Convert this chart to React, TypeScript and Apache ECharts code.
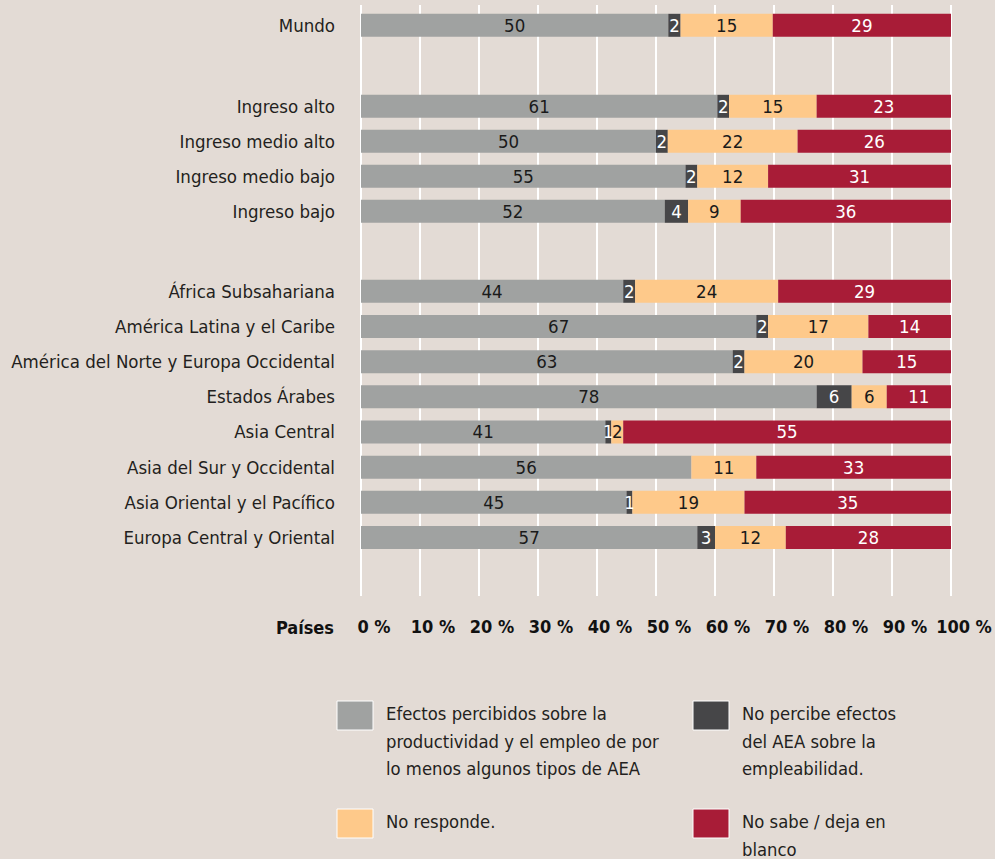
import React, { useEffect, useRef } from "react";
import * as echarts from "echarts";

const mundoCategories = ["Mundo"];
const ingresoCategories = ["Ingreso alto", "Ingreso medio alto", "Ingreso medio bajo", "Ingreso bajo"];
const regionCategories = [
  "África Subsahariana",
  "América Latina y el Caribe",
  "América del Norte y Europa Occidental",
  "Estados Árabes",
  "Asia Central",
  "Asia del Sur y Occidental",
  "Asia Oriental y el Pacífico",
  "Europa Central y Oriental",
];

// values per row: Mundo, 4 income groups, 8 regions
const efectos = [50, 61, 50, 55, 52, 44, 67, 63, 78, 41, 56, 45, 57];
const noPercibe = [2, 2, 2, 2, 4, 2, 2, 2, 6, 1, 0, 1, 3];
const noResponde = [15, 15, 22, 12, 9, 24, 17, 20, 6, 2, 11, 19, 12];
const noSabe = [29, 23, 26, 31, 36, 29, 14, 15, 11, 55, 33, 35, 28];

const xTicks = ["0 %", "10 %", "20 %", "30 %", "40 %", "50 %", "60 %", "70 %", "80 %", "90 %", "100 %"];

const seriesNames = [
  "Efectos percibidos sobre la productividad y el empleo de por lo menos algunos tipos de AEA",
  "No percibe efectos del AEA sobre la empleabilidad.",
  "No responde.",
  "No sabe / deja en blanco",
];
const legendLines = [
  "Efectos percibidos sobre la\nproductividad y el empleo de por\nlo menos algunos tipos de AEA",
  "No percibe efectos\ndel AEA sobre la\nempleabilidad.",
  "No responde.",
  "No sabe / deja en\nblanco",
];
const colors = ["#a0a2a1", "#464648", "#fec98a", "#a81c37"];
const labelColors = ["#1a1a1a", "#ffffff", "#1a1a1a", "#ffffff"];

const FONT = "'Liberation Sans Narrow', 'DejaVu Sans Condensed', 'Roboto', sans-serif";
const BG = "#e3dbd5";

export default function App() {
  const ref = useRef<HTMLDivElement>(null);
  useEffect(() => {
    document.body.style.margin = "0";
    if (!ref.current) return;
    const chart = echarts.init(ref.current, null, { renderer: "svg" });
    const all = [efectos, noPercibe, noResponde, noSabe];
    const totals = efectos.map((_, i) => all.reduce((s, arr) => s + arr[i], 0));
    const groups = [
      { cats: mundoCategories, start: 0 },
      { cats: ingresoCategories, start: 1 },
      { cats: regionCategories, start: 5 },
    ];
    const left = 361;
    const width = 590;
    const gridBase = { left, width, containLabel: false, outerBoundsMode: "none" };
    const grids: any[] = [
      { ...gridBase, top: 5, height: 591 },
      { ...gridBase, top: 7.8, height: 35 },
      { ...gridBase, top: 88.8, height: 140 },
      { ...gridBase, top: 273.7, height: 281.4 },
    ];
    const xAxes: any[] = [
      {
        type: "value",
        gridIndex: 0,
        min: 0,
        max: 100,
        interval: 10,
        axisLine: { show: false },
        axisTick: { show: false },
        splitLine: { show: true, showMinLine: true, showMaxLine: true, lineStyle: { color: "#ffffff", width: 2 } },
        axisLabel: {
          margin: 21,
          fontFamily: FONT,
          fontWeight: "bold",
          fontSize: 18,
          color: "#111111",
          padding: [0, 0, 0, 26],
          formatter: (v: number) => xTicks[Math.round(v / 10)],
        },
      },
    ];
    const yAxes: any[] = [
      { type: "category", gridIndex: 0, data: [""], show: false },
    ];
    const series: any[] = [];
    groups.forEach((g, gi) => {
      const idx = gi + 1;
      xAxes.push({ type: "value", gridIndex: idx, min: 0, max: 100, show: false, splitLine: { show: false } });
      yAxes.push({
        type: "category",
        gridIndex: idx,
        data: g.cats,
        inverse: true,
        axisLine: { show: false },
        axisTick: { show: false },
        splitLine: { show: false },
        axisLabel: { margin: 26, fontFamily: FONT, fontSize: 18.5, color: "#231f20" },
      });
      all.forEach((arr, si) => {
        const rows = g.cats.map((_, k) => g.start + k);
        series.push({
          type: "bar",
          name: seriesNames[si],
          xAxisIndex: idx,
          yAxisIndex: idx,
          stack: "s" + idx,
          barWidth: 23,
          itemStyle: { color: colors[si] },
          data: rows.map((r) => (arr[r] / totals[r]) * 100),
          label: {
            show: true,
            position: "inside",
            fontFamily: FONT,
            fontSize: 18.5,
            color: labelColors[si],
            formatter: (p: any) => {
              const v = arr[rows[p.dataIndex]];
              return v > 0 ? String(v) : "";
            },
          },
        });
      });
    });

    const graphics: any[] = [
      {
        type: "text",
        x: 334,
        y: 627,
        style: {
          text: "Países",
          align: "right",
          verticalAlign: "middle",
          fontFamily: FONT,
          fontWeight: "bold",
          fontSize: 18,
          fill: "#111111",
        },
      },
    ];
    const legendPos = [
      [337, 701],
      [693, 701],
      [337, 809],
      [693, 809],
    ];
    legendPos.forEach(([lx, ly], i) => {
      graphics.push({
        type: "rect",
        shape: { x: lx, y: ly, width: 36, height: 29 },
        style: { fill: colors[i], stroke: "#ffffff", lineWidth: 1 },
      });
      graphics.push({
        type: "text",
        x: lx + 49,
        y: ly - 1,
        style: {
          text: legendLines[i],
          align: "left",
          verticalAlign: "top",
          fontFamily: FONT,
          fontSize: 18.3,
          lineHeight: 27.5,
          fill: "#231f20",
        },
      });
    });

    chart.setOption({
      animation: false,
      backgroundColor: BG,
      grid: grids,
      xAxis: xAxes,
      yAxis: yAxes,
      series,
      graphic: graphics,
    });
    return () => chart.dispose();
  }, []);
  return <div ref={ref} style={{ width: 995, height: 859 }} />;
}
